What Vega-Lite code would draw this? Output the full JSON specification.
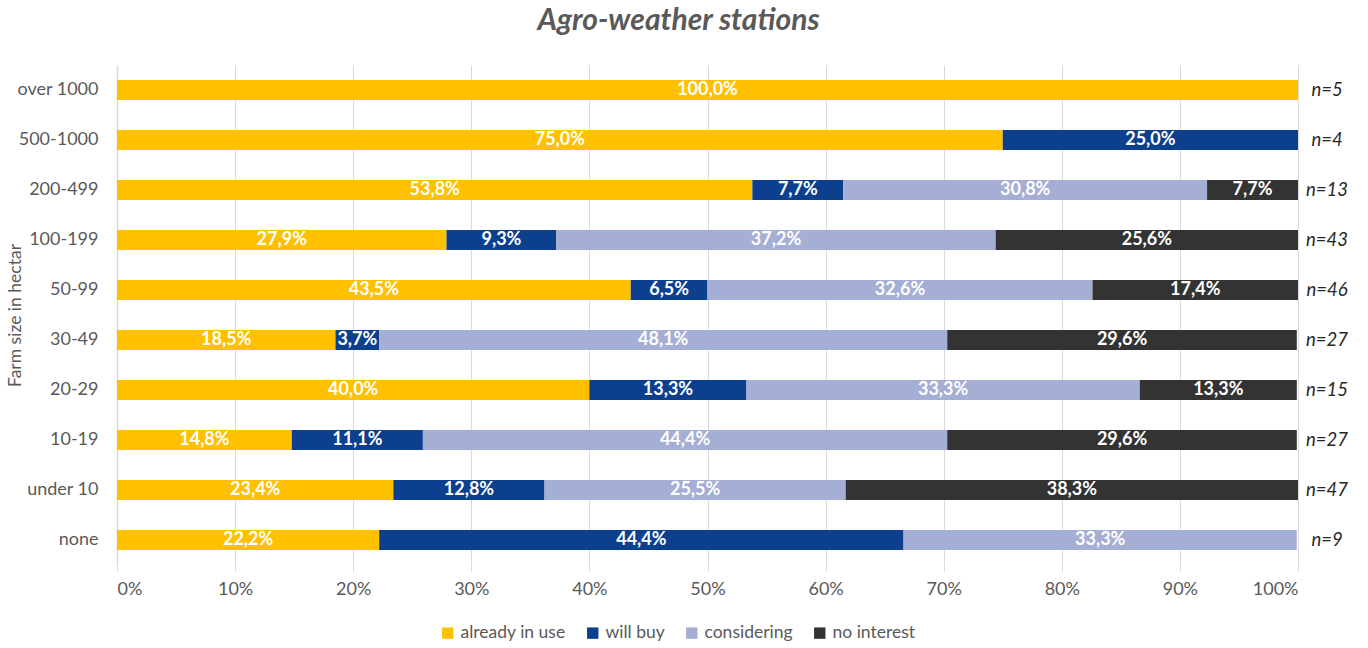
{
  "$schema": "https://vega.github.io/schema/vega-lite/v6.json",
  "width": 1181,
  "height": 500,
  "autosize": {"type": "none"},
  "padding": {"left": 117, "top": 65, "right": 70, "bottom": 83},
  "background": "white",
  "title": {
    "text": "Agro-weather stations",
    "font": "Lato",
    "fontSize": 30,
    "fontWeight": "bold",
    "fontStyle": "italic",
    "color": "#595959",
    "anchor": "middle",
    "dx": -29,
    "offset": 29
  },
  "datasets": {
    "shares": [
      {"size": "over 1000", "status": "already in use", "order": 1, "value": 1.0},
      {"size": "500-1000", "status": "already in use", "order": 1, "value": 0.75},
      {"size": "500-1000", "status": "will buy", "order": 2, "value": 0.25},
      {"size": "200-499", "status": "already in use", "order": 1, "value": 0.538},
      {"size": "200-499", "status": "will buy", "order": 2, "value": 0.077},
      {"size": "200-499", "status": "considering", "order": 3, "value": 0.308},
      {"size": "200-499", "status": "no interest", "order": 4, "value": 0.077},
      {"size": "100-199", "status": "already in use", "order": 1, "value": 0.279},
      {"size": "100-199", "status": "will buy", "order": 2, "value": 0.093},
      {"size": "100-199", "status": "considering", "order": 3, "value": 0.372},
      {"size": "100-199", "status": "no interest", "order": 4, "value": 0.256},
      {"size": "50-99", "status": "already in use", "order": 1, "value": 0.435},
      {"size": "50-99", "status": "will buy", "order": 2, "value": 0.065},
      {"size": "50-99", "status": "considering", "order": 3, "value": 0.326},
      {"size": "50-99", "status": "no interest", "order": 4, "value": 0.174},
      {"size": "30-49", "status": "already in use", "order": 1, "value": 0.185},
      {"size": "30-49", "status": "will buy", "order": 2, "value": 0.037},
      {"size": "30-49", "status": "considering", "order": 3, "value": 0.481},
      {"size": "30-49", "status": "no interest", "order": 4, "value": 0.296},
      {"size": "20-29", "status": "already in use", "order": 1, "value": 0.4},
      {"size": "20-29", "status": "will buy", "order": 2, "value": 0.133},
      {"size": "20-29", "status": "considering", "order": 3, "value": 0.333},
      {"size": "20-29", "status": "no interest", "order": 4, "value": 0.133},
      {"size": "10-19", "status": "already in use", "order": 1, "value": 0.148},
      {"size": "10-19", "status": "will buy", "order": 2, "value": 0.111},
      {"size": "10-19", "status": "considering", "order": 3, "value": 0.444},
      {"size": "10-19", "status": "no interest", "order": 4, "value": 0.296},
      {"size": "under 10", "status": "already in use", "order": 1, "value": 0.234},
      {"size": "under 10", "status": "will buy", "order": 2, "value": 0.128},
      {"size": "under 10", "status": "considering", "order": 3, "value": 0.255},
      {"size": "under 10", "status": "no interest", "order": 4, "value": 0.383},
      {"size": "none", "status": "already in use", "order": 1, "value": 0.222},
      {"size": "none", "status": "will buy", "order": 2, "value": 0.444},
      {"size": "none", "status": "considering", "order": 3, "value": 0.333}
    ],
    "counts": [
      {"size": "over 1000", "n": "n=5"},
      {"size": "500-1000", "n": "n=4"},
      {"size": "200-499", "n": "n=13"},
      {"size": "100-199", "n": "n=43"},
      {"size": "50-99", "n": "n=46"},
      {"size": "30-49", "n": "n=27"},
      {"size": "20-29", "n": "n=15"},
      {"size": "10-19", "n": "n=27"},
      {"size": "under 10", "n": "n=47"},
      {"size": "none", "n": "n=9"}
    ]
  },
  "encoding": {
    "y": {
      "field": "size",
      "type": "nominal",
      "sort": ["over 1000", "500-1000", "200-499", "100-199", "50-99", "30-49", "20-29", "10-19", "under 10", "none"],
      "scale": {"paddingInner": 0.6, "paddingOuter": 0.3},
      "axis": {
        "title": "Farm size in hectar",
        "titleFont": "Lato",
        "titleFontSize": 17.5,
        "titleFontWeight": "normal",
        "titleColor": "#595959",
        "titleX": -102,
        "titleY": 250,
        "titleAngle": -90,
        "titleAlign": "center",
        "titleBaseline": "middle",
        "labelFont": "Lato",
        "labelFontSize": 18,
        "labelColor": "#595959",
        "labelPadding": 19,
        "ticks": false,
        "domain": true,
        "domainColor": "#d9d9d9",
        "domainWidth": 1.5
      }
    }
  },
  "layer": [
    {
      "data": {"name": "shares"},
      "transform": [
        {
          "stack": "value",
          "groupby": ["size"],
          "sort": [{"field": "order", "order": "ascending"}],
          "as": ["v0", "v1"]
        },
        {"calculate": "(datum.v0 + datum.v1) / 2", "as": "mid"}
      ],
      "layer": [
        {
          "mark": {"type": "bar"},
          "encoding": {
            "x": {
              "field": "v0",
              "type": "quantitative",
              "scale": {"domain": [0, 1]},
              "axis": {
                "title": null,
                "values": [0, 0.1, 0.2, 0.3, 0.4, 0.5, 0.6, 0.7, 0.8, 0.9, 1],
                "format": "%",
                "grid": true,
                "gridColor": "#d9d9d9",
                "domain": false,
                "ticks": true,
                "tickColor": "#d9d9d9",
                "tickSize": 6,
                "labelFont": "Lato",
                "labelFontSize": 18,
                "labelColor": "#595959",
                "labelPadding": 9
              }
            },
            "x2": {"field": "v1"},
            "color": {
              "field": "status",
              "type": "nominal",
              "scale": {
                "domain": ["already in use", "will buy", "considering", "no interest"],
                "range": ["#FFC000", "#0D3F8F", "#A5AED4", "#333333"]
              },
              "legend": {
                "title": null,
                "orient": "none",
                "direction": "horizontal",
                "legendX": 322,
                "legendY": 559,
                "symbolType": "square",
                "symbolSize": 130,
                "symbolStrokeWidth": 0,
                "labelFont": "Lato",
                "labelFontSize": 17.5,
                "labelColor": "#595959",
                "labelOffset": 4,
                "columnPadding": 18
              }
            }
          }
        },
        {
          "mark": {"type": "text", "align": "center", "baseline": "middle", "font": "Lato", "fontSize": 18, "fontWeight": "bold", "color": "white"},
          "encoding": {
            "x": {"field": "mid", "type": "quantitative"},
            "text": {"field": "value", "type": "quantitative", "format": ".1%"}
          }
        }
      ]
    },
    {
      "data": {"name": "counts"},
      "mark": {"type": "text", "align": "center", "baseline": "middle", "font": "Lato", "fontSize": 18.5, "fontStyle": "italic", "color": "#262626", "dx": 29},
      "encoding": {
        "x": {"datum": 1, "type": "quantitative"},
        "text": {"field": "n"}
      }
    }
  ],
  "config": {
    "locale": {
      "number": {"decimal": ",", "thousands": ".", "grouping": [3], "currency": ["", " €"]}
    },
    "view": {"stroke": null}
  }
}
